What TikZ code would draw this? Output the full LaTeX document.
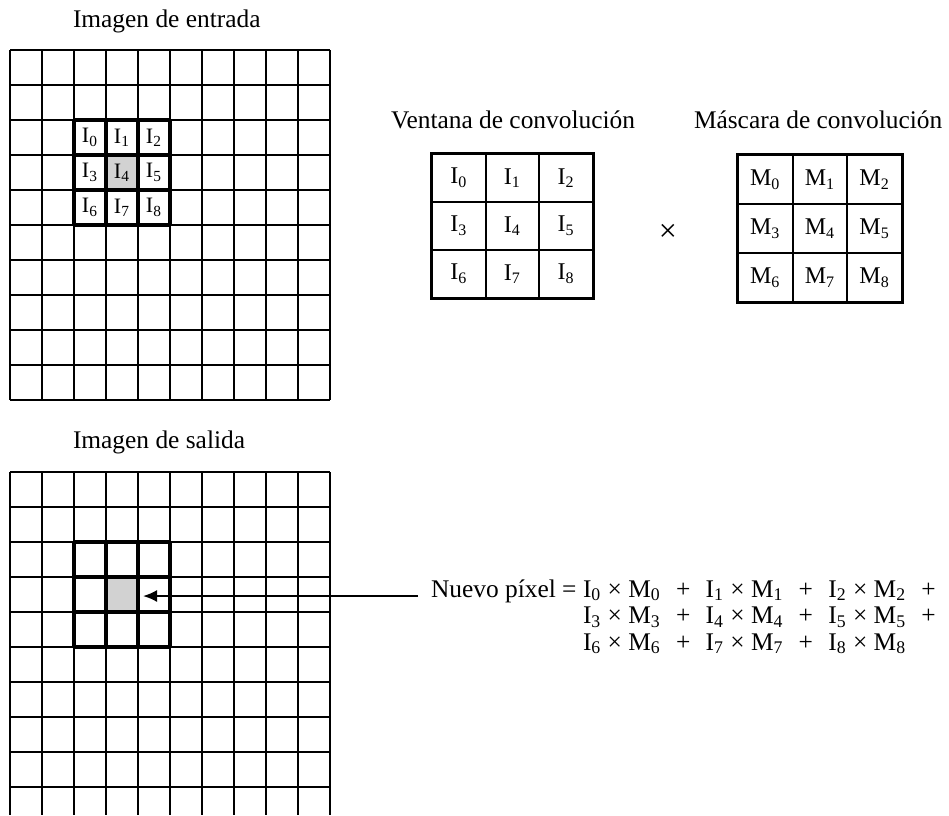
\documentclass[tikz,border=0pt]{standalone}
\usepackage{fontspec}
\setmainfont{Liberation Serif}
\usetikzlibrary{arrows.meta}
\newcommand{\Iv}[1]{I\textsubscript{#1}}
\newcommand{\Mv}[1]{M\textsubscript{#1}}
\newcommand{\pl}{\hspace{0.6em}+\hspace{0.6em}}

\begin{document}
\begin{tikzpicture}[
  x=0.5pt, y=-0.5pt, line width=1pt,
    ttl/.style={anchor=base west, inner sep=0pt, font=\fontsize{12.7}{15}\selectfont},
    lbl/.style={inner sep=0pt, font=\fontsize{11}{12}\selectfont},
    wcell/.style={draw, line width=1pt, minimum width=26.83pt, minimum height=24pt,
                inner sep=0pt, font=\fontsize{12}{14}\selectfont},
    mcell/.style={wcell, minimum width=27.33pt, minimum height=24.5pt},
    thk/.style={line width=2pt},
    pix/.style={fill=gray!35, draw=none, minimum width=16pt, minimum height=17.5pt, inner sep=0pt},
    eq/.style={anchor=base west, inner sep=0pt, font=\fontsize{12.7}{15}\selectfont},
]
\useasboundingbox (0,0) rectangle (949,815);

% imagen de entrada
\node[ttl] (tin) at (72,27) {Imagen de entrada};
\node[pix] (pin) at (122,172.5) {};
\foreach \i in {0,...,10} {
  \draw (10+32*\i,50) -- (10+32*\i,400);
  \draw (10,50+35*\i) -- (330,50+35*\i);
}
\foreach \i in {0,...,3} {
  \draw[thk] (74+32*\i,120) -- (74+32*\i,225);
  \draw[thk] (74,120+35*\i) -- (170,120+35*\i);
}
\foreach \k in {0,...,8} {
  \pgfmathtruncatemacro{\col}{mod(\k,3)}
  \pgfmathtruncatemacro{\row}{\k/3}
  \node[lbl] (g\k) at (90+32*\col,137.5+35*\row) {\Iv{\k}};
}

% ventana y mascara
\node[ttl] (tven) at (390,128) {Ventana de convolución};
\node[ttl] (tmas) at (693,128) {Máscara de convolución};
\foreach \k in {0,...,8} {
  \pgfmathtruncatemacro{\col}{mod(\k,3)}
  \pgfmathtruncatemacro{\row}{\k/3}
  \node[wcell] (w\k) at (458.8+53.67*\col,178+48*\row) {\Iv{\k}};
  \node[mcell] (m\k) at (765.3+54.67*\col,179.5+49*\row) {\Mv{\k}};
}
\draw[line width=1.4pt] (w0.north west) rectangle (w8.south east);
\draw[line width=1.4pt] (m0.north west) rectangle (m8.south east);
\node[font=\fontsize{16}{16}\selectfont] (mul) at (668,233) {×};

% imagen de salida
\node[ttl] (tout) at (72,448) {Imagen de salida};
\node[pix] (pout) at (122,594.5) {};
\foreach \i in {0,...,10}
  \draw (10+32*\i,472) -- (10+32*\i,815);
\foreach \i in {0,...,9}
  \draw (10,472+35*\i) -- (330,472+35*\i);
\foreach \i in {0,...,3} {
  \draw[thk] (74+32*\i,542) -- (74+32*\i,647);
  \draw[thk] (74,542+35*\i) -- (170,542+35*\i);
}

% nuevo pixel
\coordinate (tail) at (418,596);
\draw[-{Latex[length=7pt,width=6pt]}, shorten >=2pt] (tail) -- (tail -| pout.east);
\node[eq] (nuevo) at (430,597) {Nuevo píxel =};
\node[eq] (eq1) at (582,597) {\Iv{0} × \Mv{0}\pl\Iv{1} × \Mv{1}\pl\Iv{2} × \Mv{2}\hspace{0.6em}+};
\node[eq] (eq2) at (582,623.5) {\Iv{3} × \Mv{3}\pl\Iv{4} × \Mv{4}\pl\Iv{5} × \Mv{5}\hspace{0.6em}+};
\node[eq] (eq3) at (582,650) {\Iv{6} × \Mv{6}\pl\Iv{7} × \Mv{7}\pl\Iv{8} × \Mv{8}};
\end{tikzpicture}
\end{document}
